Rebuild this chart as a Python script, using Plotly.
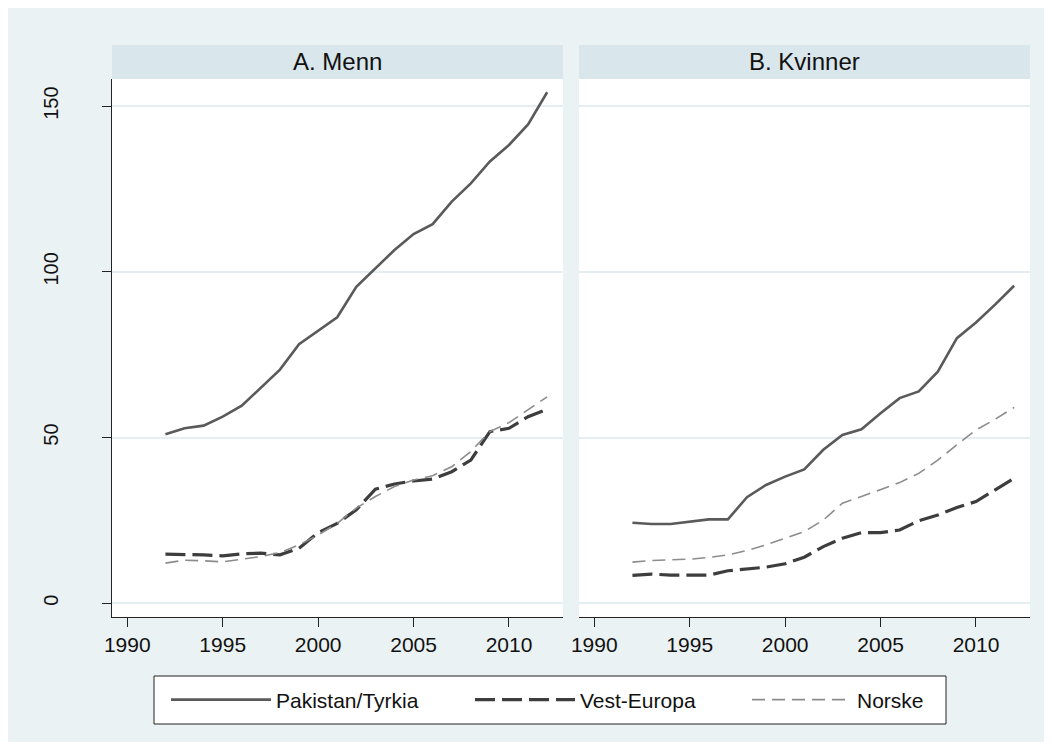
import plotly.graph_objects as go
from plotly.subplots import make_subplots

years = list(range(1992, 2013))

# Panel A: Menn
menn_pak = [51.0, 52.8, 53.6, 56.3, 59.6, 65.2, 70.5, 78.2, 82.3, 86.3, 95.5,
            101.1, 106.6, 111.4, 114.4, 121.2, 126.7, 133.3, 138.3, 144.5, 154.2]
menn_vest = [14.8, 14.8, 14.6, 14.3, 14.9, 15.1, 14.6, 16.6, 21.3, 24.1, 28.2,
             34.4, 36.0, 36.9, 37.5, 39.7, 43.2, 51.8, 52.8, 56.3, 58.5]
menn_nor = [12.1, 13.0, 12.8, 12.5, 13.3, 14.1, 15.3, 17.6, 20.6, 24.1, 28.7,
            32.2, 35.2, 37.2, 38.5, 41.2, 45.8, 51.8, 54.5, 58.5, 62.3]

# Panel B: Kvinner
kv_pak = [24.3, 23.9, 23.9, 24.6, 25.3, 25.3, 32.0, 35.7, 38.2, 40.4, 46.3,
          50.8, 52.5, 57.3, 61.9, 63.9, 69.9, 80.0, 84.7, 90.1, 95.8]
kv_vest = [8.4, 8.8, 8.5, 8.5, 8.5, 9.8, 10.3, 10.9, 11.9, 13.9, 17.1,
           19.6, 21.3, 21.3, 22.1, 24.9, 26.6, 28.9, 30.7, 34.2, 37.7]
kv_nor = [12.4, 12.9, 13.1, 13.3, 13.8, 14.6, 15.9, 17.6, 19.6, 21.6, 25.1,
          30.2, 32.2, 34.2, 36.4, 39.2, 43.2, 47.8, 52.3, 55.5, 59.1]

series_names = ["Pakistan/Tyrkia", "Vest-Europa", "Norske"]
panel_titles = ["A. Menn", "B. Kvinner"]
x_ticks = [1990, 1995, 2000, 2005, 2010]
y_ticks = [0, 50, 100, 150]

FONT = "Arial, Liberation Sans, sans-serif"
W, H = 1037, 734
L, R, T, B = 104, 15, 71, 125
PW, PH = W - L - R, H - T - B


def px(xp):
    return (xp - L) / PW


def py(yp):
    return (H - B - yp) / PH


styles = [
    dict(color="#5a5a5a", width=2.6, dash="solid"),
    dict(color="#3d3d3d", width=3.2, dash="20px,7px"),
    dict(color="#8c8c8c", width=1.6, dash="13px,7px"),
]
legend_ids = ["legend", "legend2", "legend3"]
legend_x = [158, 462, 739]  # start of each legend sample (figure px)

fig = make_subplots(rows=1, cols=2, shared_yaxes=True, horizontal_spacing=0.0)

panels = [[menn_pak, menn_vest, menn_nor], [kv_pak, kv_vest, kv_nor]]
for c, data in enumerate(panels, start=1):
    for i, (name, vals) in enumerate(zip(series_names, data)):
        fig.add_trace(go.Scatter(x=years, y=vals, mode="lines", name=name,
                                 line=styles[i], showlegend=(c == 1),
                                 legend=legend_ids[i], hoverinfo="skip"),
                      row=1, col=c)

xa = dict(range=[1989.2, 2012.83], tickvals=x_ticks, ticks="outside", ticklen=9,
          tickwidth=1, tickcolor="#222", showline=True, linecolor="#222",
          linewidth=1, showgrid=False, zeroline=False,
          tickfont=dict(size=21, color="#111", family=FONT))
fig.update_layout(
    xaxis=dict(domain=[0, px(555)], **xa),
    xaxis2=dict(domain=[px(571), 1], **xa),
    yaxis=dict(range=[-4.15, 158.2], tickvals=y_ticks, ticks="outside", ticklen=9,
               tickwidth=1, tickcolor="#222", showline=True, linecolor="#222",
               linewidth=1, showgrid=True, gridcolor="#E6EEF1", gridwidth=1.5,
               zeroline=False, tickangle=-90, ticklabelstandoff=36,
               tickfont=dict(size=20, color="#111", family=FONT)),
    yaxis2=dict(range=[-4.15, 158.2], tickvals=y_ticks, showticklabels=False,
                ticks="", showline=False, showgrid=True, gridcolor="#E6EEF1",
                gridwidth=1.5, zeroline=False, matches="y"),
)

shapes = []
annotations = []
# strip titles
for dom, title in zip([(104, 555), (571, 1022)], panel_titles):
    shapes.append(dict(type="rect", xref="paper", yref="paper",
                       x0=px(dom[0]), x1=px(dom[1]), y0=py(71), y1=py(37),
                       fillcolor="#D9E6EC", line=dict(width=0), layer="below"))
    annotations.append(dict(text=title, xref="paper", yref="paper",
                            x=px((dom[0] + dom[1]) / 2), y=py(54),
                            xanchor="center", yanchor="middle", showarrow=False,
                            font=dict(size=24, color="#111", family=FONT)))
# legend box
shapes.append(dict(type="rect", xref="paper", yref="paper",
                   x0=px(146), x1=px(938), y0=py(716), y1=py(668),
                   fillcolor="white", line=dict(color="#222", width=1),
                   layer="below"))

legend_common = dict(orientation="h", xanchor="left", y=py(692), yanchor="middle",
                     bgcolor="rgba(0,0,0,0)", borderwidth=0, itemwidth=100,
                     font=dict(size=21, color="#111", family=FONT))

fig.update_layout(
    width=W, height=H,
    margin=dict(l=L, r=R, t=T, b=B, pad=0),
    paper_bgcolor="#EAF2F3",
    plot_bgcolor="white",
    font=dict(family=FONT, size=20, color="#111"),
    shapes=shapes,
    annotations=annotations,
    showlegend=True,
    legend=dict(x=px(legend_x[0]), **legend_common),
    legend2=dict(x=px(legend_x[1]), **legend_common),
    legend3=dict(x=px(legend_x[2]), **legend_common),
)

fig.write_html("out.html")
